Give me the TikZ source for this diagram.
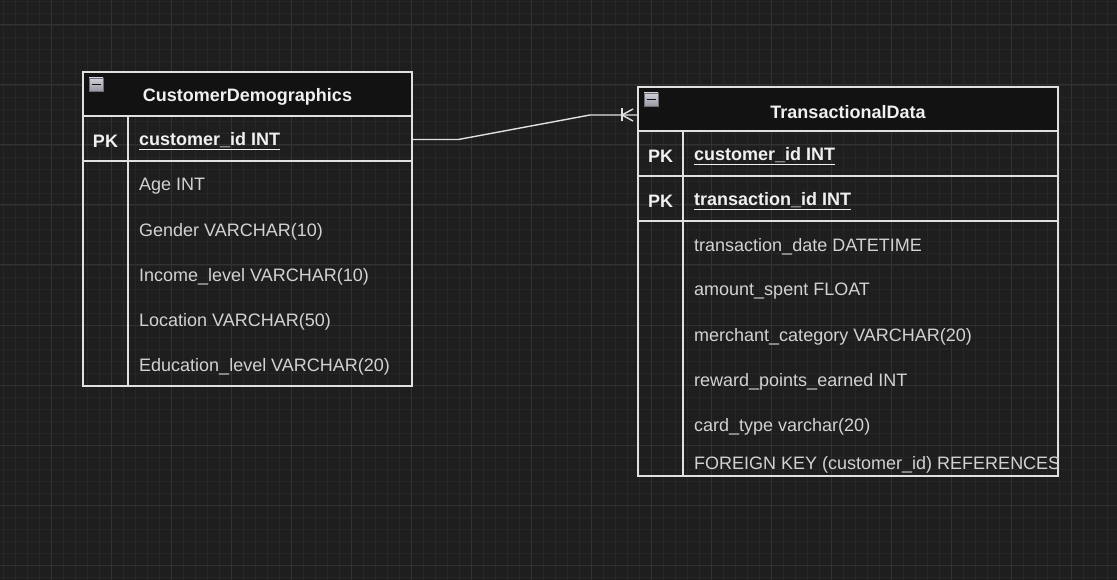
\documentclass[tikz,border=0pt]{standalone}
\usepackage{fontspec}
\setmainfont{Liberation Sans}
\definecolor{bgc}{HTML}{1E1E1E}
\definecolor{minorc}{HTML}{262626}
\definecolor{majorc}{HTML}{323232}
\definecolor{linec}{HTML}{E0E0E0}
\definecolor{headc}{HTML}{121212}
\definecolor{titlec}{HTML}{F0F0F0}
\definecolor{fieldc}{HTML}{D2D2D2}
\definecolor{iconhi}{HTML}{D0D0D8}
\definecolor{iconlo}{HTML}{9898A4}
\definecolor{iconbd}{HTML}{6E6E78}
\tikzset{
  tbl/.style={draw=linec, line width=1.4pt},
  hdr/.style={fill=headc, draw=linec, line width=1.4pt},
  sep/.style={draw=linec, line width=1.4pt},
  title/.style={font=\fontsize{18}{21}\selectfont\bfseries, text=titlec, inner sep=0pt, yshift=-2pt},
  pk/.style={font=\fontsize{18}{21}\selectfont\bfseries, text=titlec, inner sep=0pt, yshift=-2pt},
  keyfield/.style={font=\fontsize{18}{21}\selectfont\bfseries, text=titlec, anchor=west, inner sep=0pt, yshift=-2pt},
  field/.style={font=\fontsize{18}{21}\selectfont, text=fieldc, anchor=west, inner sep=0pt, yshift=-2pt},
  conn/.style={draw=linec, line width=1.4pt},
  icon/.style={top color=iconhi, bottom color=iconlo, draw=iconbd, line width=0.8pt},
}
\newcommand{\tblicon}[2]{%
  \draw[icon] (#1,#2) rectangle ++(14,13);
  \draw[line width=1.6pt, draw=headc] (#1+2.5,#2+6.5) -- ++(9,0);
}
\begin{document}
\begin{tikzpicture}[x=1pt,y=-1pt]
\useasboundingbox (0,0) rectangle (1117,580);
\fill[bgc] (0,0) rectangle (1117,580);
% grid
\foreach \x in {3,15,...,1117} \draw[minorc, line width=0.8pt] (\x,0) -- (\x,580);
\foreach \y in {1,13,...,580} \draw[minorc, line width=0.8pt] (0,\y) -- (1117,\y);
\foreach \x in {-9,51,...,1117} \draw[majorc, line width=1pt] (\x,0) -- (\x,580);
\foreach \y in {25,85,...,580} \draw[majorc, line width=1pt] (0,\y) -- (1117,\y);

% ===== Table 1: CustomerDemographics =====
\node[rectangle, minimum width=329pt, minimum height=314pt, anchor=north west, inner sep=0pt] (t1) at (83,72) {};
\fill[headc] (83,72) rectangle (412,116);
\draw[tbl] (83,72) rectangle (412,386);
\draw[sep] (83,116) -- (412,116);
\draw[sep] (83,161) -- (412,161);
\draw[sep] (128,116) -- (128,386);
\tblicon{89}{78}
\node[title] (t1title) at (247.5,95) {CustomerDemographics};
\node[pk] (t1pk) at (105.5,139.5) {PK};
\node[keyfield] (t1id) at (139,139.5) {\underline{customer\_id INT}};
\node[field] (t1a) at (139,184.5) {Age INT};
\node[field] (t1b) at (139,229.5) {Gender VARCHAR(10)};
\node[field] (t1c) at (139,274.5) {Income\_level VARCHAR(10)};
\node[field] (t1d) at (139,319.5) {Location VARCHAR(50)};
\node[field] (t1e) at (139,364.5) {Education\_level VARCHAR(20)};

% ===== Table 2: TransactionalData =====
\node[rectangle, minimum width=420pt, minimum height=389pt, anchor=north west, inner sep=0pt] (t2) at (638,87) {};
\fill[headc] (638,87) rectangle (1058,131);
\draw[tbl] (638,87) rectangle (1058,476);
\draw[sep] (638,131) -- (1058,131);
\draw[sep] (638,176) -- (1058,176);
\draw[sep] (638,221) -- (1058,221);
\draw[sep] (683,131) -- (683,476);
\tblicon{644}{93}
\node[title] (t2title) at (848,110) {TransactionalData};
\node[pk] (t2pk1) at (660.5,154.5) {PK};
\node[keyfield] (t2id1) at (694,154.5) {\underline{customer\_id INT}};
\node[pk] (t2pk2) at (660.5,199.5) {PK};
\node[keyfield] (t2id2) at (694,199.5) {\underline{transaction\_id INT}};
\node[field] (t2a) at (694,244.5) {transaction\_date DATETIME};
\node[field] (t2b) at (694,289.5) {amount\_spent FLOAT};
\node[field] (t2c) at (694,334.5) {merchant\_category VARCHAR(20)};
\node[field] (t2d) at (694,379.5) {reward\_points\_earned INT};
\node[field] (t2e) at (694,424.5) {card\_type varchar(20)};
\begin{scope}
\clip (683,440) rectangle (1059,476);
\node[field] (t2f) at (694,462.5) {FOREIGN KEY (customer\_id) REFERENCES};
\end{scope}

% ===== Connector =====
\coordinate (c1) at (t1.north east |- 0,139.5);
\coordinate (c2) at (t2.north west |- 0,115);
\draw[conn] (c1) -- ++(46,0) -- ([xshift=-48pt]c2) -- (c2);
\draw[conn] ([xshift=-16pt,yshift=-6.5pt]c2) -- ([xshift=-16pt,yshift=6.5pt]c2);
\draw[conn] ([xshift=-5pt,yshift=-6pt]c2) -- ([xshift=-16pt]c2) -- ([xshift=-5pt,yshift=6pt]c2);
\end{tikzpicture}
\end{document}
